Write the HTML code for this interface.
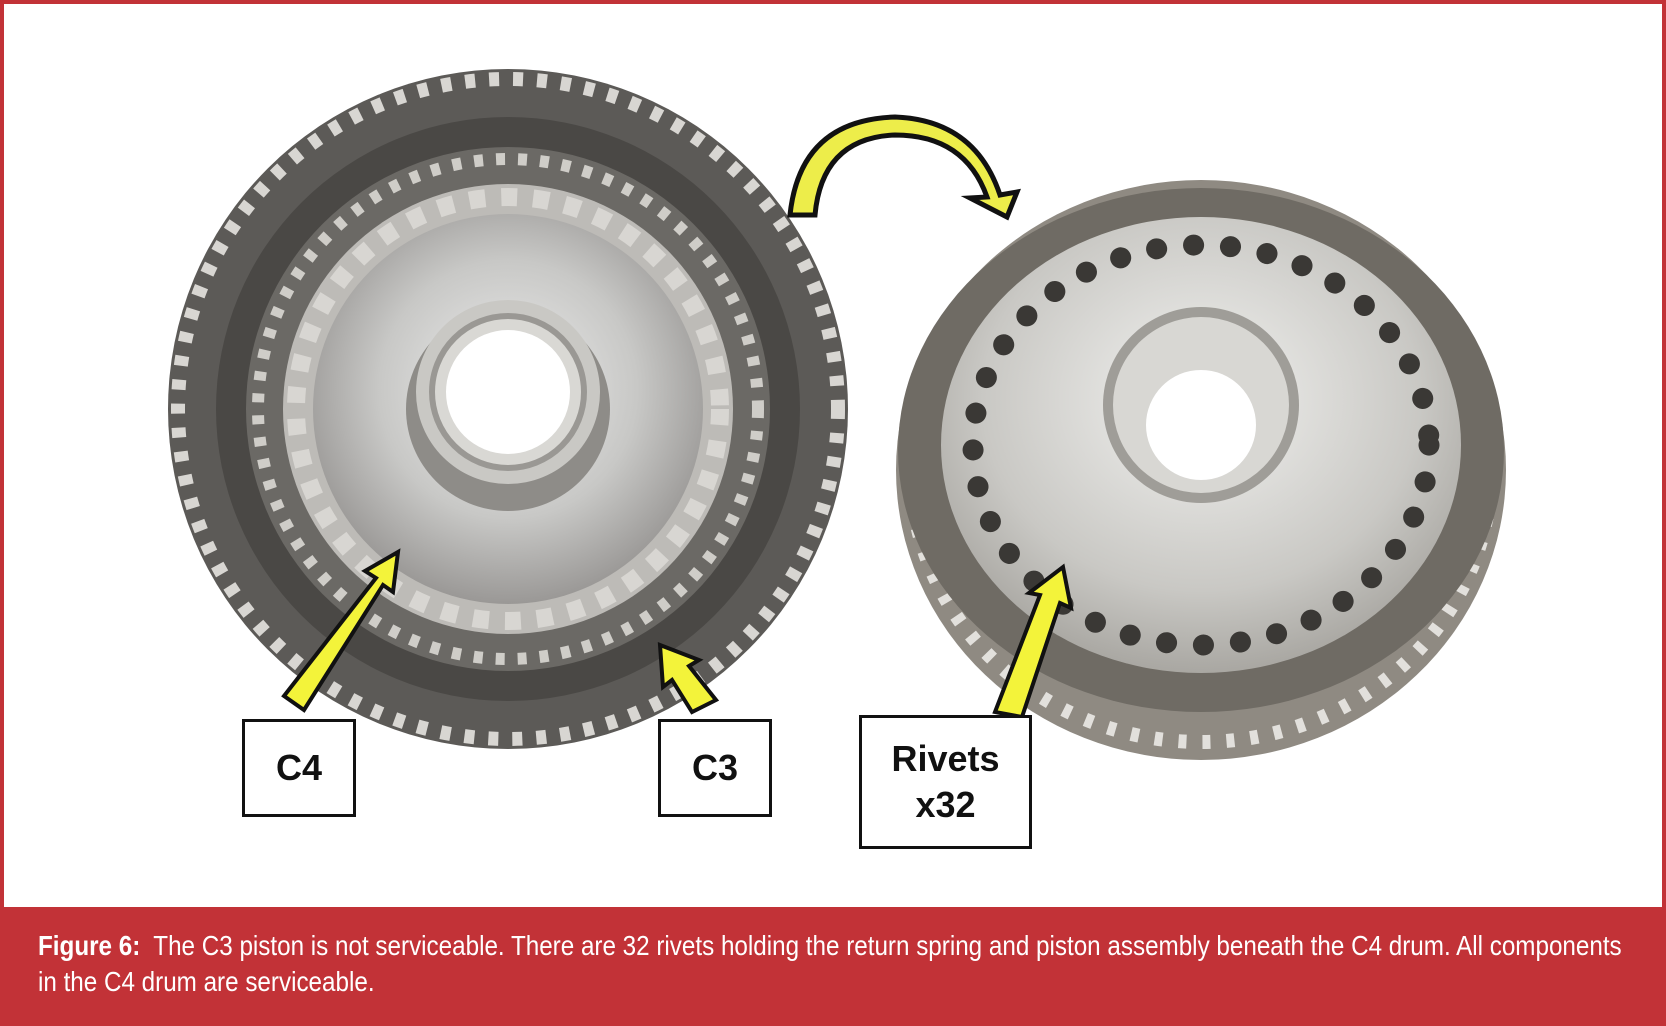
<!DOCTYPE html>
<html><head><meta charset="utf-8"><style>
html,body{margin:0;padding:0;background:#fff}
#w{position:relative;width:1666px;height:1026px;overflow:hidden;background:#c23237}
#img{position:absolute;left:4px;top:4px;width:1658px;height:903px;background:#fff}
.box{position:absolute;border:3px solid #111;background:#fff;font:bold 36px "Liberation Sans",sans-serif;color:#111;text-align:center;box-sizing:border-box;display:flex;align-items:center;justify-content:center;line-height:46px}
#cap{position:absolute;left:38px;top:928px;width:1900px;color:#fff;font:28px/36px "Liberation Sans",sans-serif;transform:scaleX(0.865);transform-origin:0 0;white-space:nowrap}
</style></head><body><div id="w"><div id="img"></div>
<svg style="position:absolute;left:0;top:0" width="1666" height="907">
<defs>
<radialGradient id="m" cx="50%" cy="45%" r="55%"><stop offset="0" stop-color="#eee"/><stop offset=".6" stop-color="#c8c8c6"/><stop offset="1" stop-color="#9a9896"/></radialGradient>
<radialGradient id="r" cx="50%" cy="40%" r="60%"><stop offset="0" stop-color="#f2f2f0"/><stop offset=".7" stop-color="#c9c8c4"/><stop offset="1" stop-color="#a9a7a2"/></radialGradient>
</defs>
<circle cx="508" cy="409" r="340" fill="#5c5a57"/>
<circle cx="508" cy="409" r="330" fill="none" stroke="#d8d6d2" stroke-width="14" stroke-dasharray="10 14"/>
<circle cx="508" cy="409" r="292" fill="#4a4845"/>
<circle cx="508" cy="409" r="262" fill="#6b6965"/>
<circle cx="508" cy="409" r="250" fill="none" stroke="#cfcdc8" stroke-width="12" stroke-dasharray="9 13"/>
<circle cx="508" cy="409" r="225" fill="#bdbbb7"/>
<circle cx="508" cy="409" r="212" fill="none" stroke="#d8d6d2" stroke-width="18" stroke-dasharray="16 16"/>
<circle cx="508" cy="409" r="195" fill="url(#m)"/>
<circle cx="508" cy="409" r="102" fill="#8e8c88"/>
<circle cx="508" cy="392" r="92" fill="#c9c8c4"/>
<circle cx="508" cy="392" r="76" fill="#d9d8d4" stroke="#9a9894" stroke-width="6"/>
<circle cx="508" cy="392" r="62" fill="#fff"/>
<ellipse cx="1201" cy="470" rx="305" ry="290" fill="#8f8a82"/>
<ellipse cx="1201" cy="470" rx="290" ry="272" fill="none" stroke="#e2e0dc" stroke-width="14" stroke-dasharray="8 16"/>
<ellipse cx="1201" cy="450" rx="303" ry="262" fill="#6f6b64"/>
<ellipse cx="1201" cy="445" rx="260" ry="228" fill="url(#r)"/>
<ellipse cx="1201" cy="445" rx="228" ry="200" fill="none" stroke="#3a3835" stroke-width="21" stroke-dasharray="0.1 37" stroke-linecap="round"/>
<circle cx="1201" cy="405" r="98" fill="#9f9d98"/>
<circle cx="1201" cy="405" r="88" fill="#d8d7d3"/>
<circle cx="1201" cy="425" r="55" fill="#fff"/>
<path d="M790 215 Q800 120 895 117 Q975 120 1000 195 L1017 192 L1007 217 L970 198 L987 197 Q965 135 895 135 Q822 138 815 215 Z" fill="#eded4a" stroke="#111" stroke-width="5"/>
<g fill="#f3f33a" stroke="#111" stroke-width="4">
<path d="M284 696 L376 578 L365 571 L398 552 L393 592 L383 585 L304 710 Z"/>
<path d="M692 712 L672 680 L663 687 L660 645 L699 660 L689 666 L716 700 Z"/>
<path d="M995 712 L1040 595 L1029 593 L1063 567 L1071 608 L1060 603 L1022 717 Z"/>
</g>
</svg>
<div class="box" style="left:242px;top:719px;width:114px;height:98px">C4</div>
<div class="box" style="left:658px;top:719px;width:114px;height:98px">C3</div>
<div class="box" style="left:859px;top:715px;width:173px;height:134px">Rivets<br>x32</div>
<div id="cap"><b>Figure 6:</b>&nbsp; The C3 piston is not serviceable. There are 32 rivets holding the return spring and piston assembly beneath the C4 drum. All components<br>in the C4 drum are serviceable.</div>
</div></body></html>
